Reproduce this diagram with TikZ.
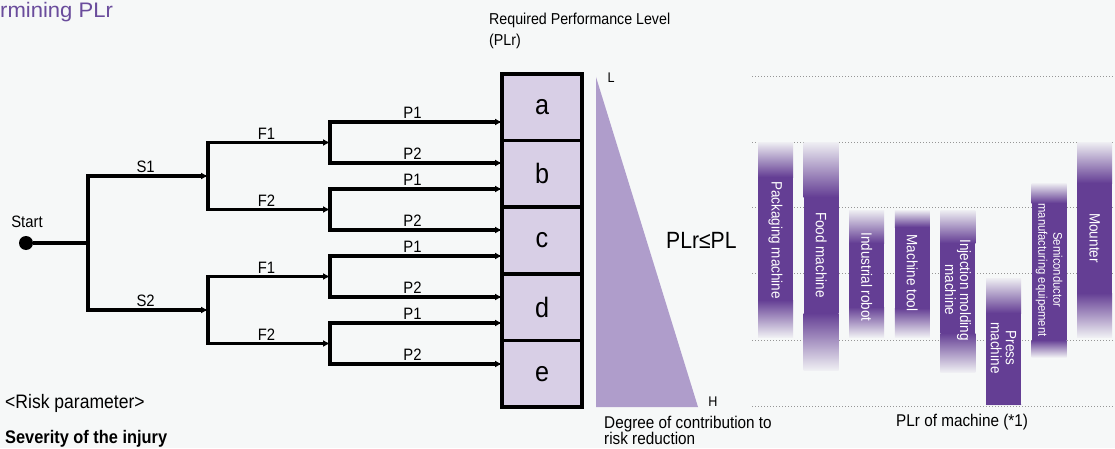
\documentclass[tikz,border=0pt]{standalone}
\usepackage{fontspec}
\setmainfont{Liberation Sans}[FakeStretch=0.9]
\newfontfamily\headfont{Liberation Sans}[FakeStretch=1.05]
\usetikzlibrary{arrows.meta,positioning}
\definecolor{bgcol}{RGB}{246,248,248}
\definecolor{titlepurple}{RGB}{106,76,156}
\definecolor{barpurple}{RGB}{100,62,148}
\definecolor{boxfill}{RGB}{216,207,230}
\definecolor{wedgefill}{RGB}{175,157,203}
\definecolor{gridgray}{RGB}{150,150,150}
\colorlet{barfade}{barpurple!5!bgcol}
\begin{document}
\begin{tikzpicture}[x=1pt,y=1pt,
	grow'=right,
	level 1/.style={level distance=120pt,sibling distance=134pt},
	level 2/.style={level distance=122pt,sibling distance=67pt},
	level 3/.style={level distance=172pt,sibling distance=41pt},
	edge from parent/.style={draw,line width=3.4pt,-{Latex[length=7pt,width=7pt]}},
	edge from parent path={(\tikzparentnode) |- (\tikzchildnode)},
	branchlabel/.style={above=1.2pt,pos=.74,inner sep=0.5pt,font=\fontsize{16.5}{18}\selectfont},
	plbox/.style={draw,line width=3.5pt,fill=boxfill,minimum width=80pt,minimum height=66.6pt,
		outer sep=0pt,font=\fontsize{28}{30}\selectfont},
	txt/.style={inner sep=0pt,font=\fontsize{16.5}{16}\selectfont},
	gridline/.style={gridgray,line width=0.9pt,dash pattern=on 1.2pt off 1.8pt},
	barlabel/.style={rotate=-90,text=white,align=center,inner sep=0pt}
	]
	\fill[bgcol] (0,0) rectangle (1115,448);
	\useasboundingbox (0,0) rectangle (1115,448);

	% title and risk parameter
	\node[txt,anchor=base west,text=titlepurple,font=\headfont\fontsize{21}{24}\selectfont] (title) at (0,430) {rmining PLr};
	\node[txt,anchor=base west,font=\fontsize{19.5}{20}\selectfont] (riskparam) at (5,40) {<Risk parameter>};
	\node[txt,anchor=base west,font=\bfseries\fontsize{18.2}{20}\selectfont] (severity) at (5,5) {Severity of the injury};

	% decision tree
	\node[coordinate] (split) at (88,205) {}
	child {coordinate (s1)
		child {coordinate (s1f1)
			child {coordinate (s1f1p1) edge from parent node[branchlabel] {P1}}
			child {coordinate (s1f1p2) edge from parent node[branchlabel] {P2}}
			edge from parent node[branchlabel] {F1}
		}
		child {coordinate (s1f2)
			child {coordinate (s1f2p1) edge from parent node[branchlabel] {P1}}
			child {coordinate (s1f2p2) edge from parent node[branchlabel] {P2}}
			edge from parent node[branchlabel] {F2}
		}
		edge from parent node[branchlabel] {S1}
	}
	child {coordinate (s2)
		child {coordinate (s2f1)
			child {coordinate (s2f1p1) edge from parent node[branchlabel] {P1}}
			child {coordinate (s2f1p2) edge from parent node[branchlabel] {P2}}
			edge from parent node[branchlabel] {F1}
		}
		child {coordinate (s2f2)
			child {coordinate (s2f2p1) edge from parent node[branchlabel] {P1}}
			child {coordinate (s2f2p2) edge from parent node[branchlabel] {P2}}
			edge from parent node[branchlabel] {F2}
		}
		edge from parent node[branchlabel] {S2}
	};
	\node[circle,fill,inner sep=0pt,minimum size=14pt] (start) at (26,205) {};
	\node[txt,anchor=base] (startlabel) at (27,221) {Start};
	\draw[line width=3.4pt] (start) -- (split);

	% required performance level
	\node[txt,anchor=north west,align=left,font=\fontsize{15.8}{21}\selectfont] (plrtitle) at (489,435) {Required Performance Level\\(PLr)};
	\node[plbox] (a) at (542,340.7) {a};
	\node[plbox,below=0pt of a] (b) {b};
	\node[plbox,below=0pt of b] (c) {c};
	\node[plbox,below=0pt of c] (d) {d};
	\node[plbox,below=0pt of d] (e) {e};

	% contribution wedge
	\fill[wedgefill] (596,371) -- (596,41) -- (698,41) -- cycle;
	\node[txt,anchor=base,font=\fontsize{14}{16}\selectfont] (lowmark) at (611,365) {L};
	\node[txt,anchor=base,font=\fontsize{14}{16}\selectfont] (highmark) at (713,42) {H};
	\node[txt,anchor=base west,font=\fontsize{23.5}{26}\selectfont] (compare) at (666,200) {PLr≤PL};
	\node[txt,anchor=north west,align=left,font=\fontsize{17}{16}\selectfont] (degree) at (604,32) {Degree of contribution to\\risk reduction};

	% PLr of machines
	\foreach \ly in {76,142,207,273,340,406}
		\draw[gridline] (752,448-\ly) -- (1115,448-\ly);
	\foreach \k/\ya/\yb/\yc/\yd/\yl/\fs/\bs/\lbl in {
		0/142/177/300/337/240/15/15/{Packaging machine},
		1/142/197/313/370/255/15/15/{Food machine},
		2/210/243/307/337/277/15/15/{Industrial robot},
		3/210/227/308/337/273/15/15/{Machine tool},
		4/210/243/333/372/290/15/15/{Injection molding\\machine},
		5/278/313/404/405/348/15/15/{Press\\machine},
		6/183/203/340/357/270/12.5/15/{Semiconductor\\manufacturing equipement},
		7/142/183/293/337/238/15/15/{Mounter}}
	{
		\pgfmathsetmacro\cx{775.5+45.6*\k}
		\shade[top color=barfade,bottom color=barpurple] (\cx-17.5,448-\ya) rectangle (\cx+17.5,448-\yb);
		\fill[barpurple] (\cx-17.5,448-\yb) rectangle (\cx+17.5,448-\yc);
		\shade[top color=barpurple,bottom color=barfade] (\cx-17.5,448-\yc) rectangle (\cx+17.5,448-\yd);
		\node[barlabel,font=\fontsize{\fs}{\bs}\selectfont] (bar\k) at (\cx,448-\yl) {\lbl};
	}
	\node[txt,anchor=base west,font=\fontsize{17}{18}\selectfont] (plrmachine) at (896,22) {PLr of machine (*1)};
\end{tikzpicture}
\end{document}
